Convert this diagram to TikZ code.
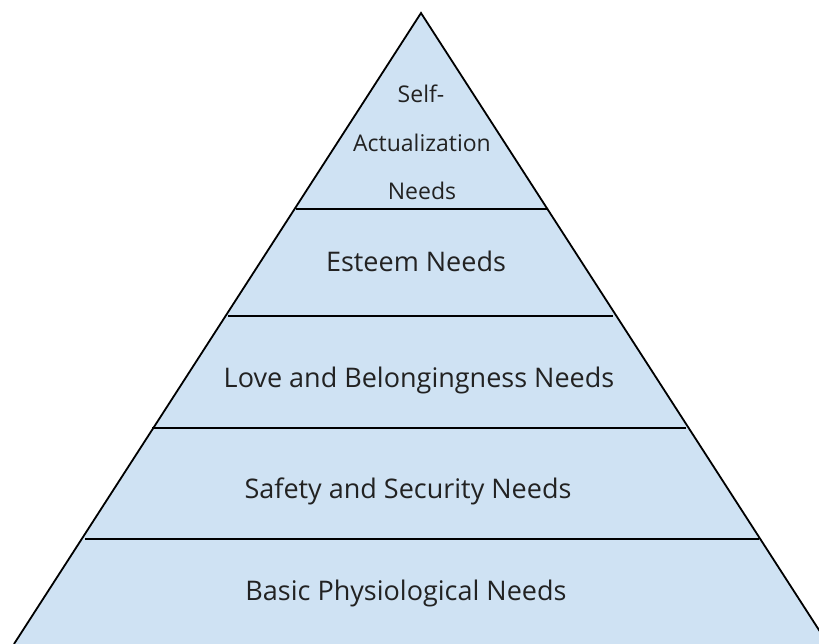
\documentclass[tikz,border=0pt]{standalone}
\usepackage{fontspec}
\setmainfont{Open Sans}
\definecolor{pyrfill}{HTML}{CFE2F3}
\definecolor{txt}{HTML}{222222}
\tikzset{
  lvl/.style={anchor=base, font=\fontsize{27}{32}\selectfont, text=txt, inner sep=0pt},
  toplvl/.style={lvl, font=\fontsize{23}{28}\selectfont},
  edge/.style={line width=1.8pt, black},
  sep/.style={line width=1.8pt, black}
}
\begin{document}
\begin{tikzpicture}[x=1pt,y=-1pt]
\useasboundingbox (0,0) rectangle (819,644);
\clip (0,0) rectangle (819,644);
\coordinate (apex) at (421,13);
\coordinate (bl) at (14,644);
\coordinate (br) at (828,644);
\fill[pyrfill] (apex) -- (bl) -- (br) -- cycle;
\draw[sep] (296,209) -- (547,209);
\draw[sep] (228,316) -- (613,316);
\draw[sep] (152,428) -- (686,428);
\draw[sep] (85,539) -- (759,539);
\draw[edge, line join=miter] (bl) -- (apex) -- (br);
\node[toplvl] (s1) at (421,103) {Self-};
\node[toplvl] (s2) at (422,152) {Actualization};
\node[toplvl] (s3) at (422,200) {Needs};
\node[lvl] (e) at (416,272) {Esteem Needs};
\node[lvl] (l) at (419,387) {Love and Belongingness Needs};
\node[lvl] (s) at (408,498) {Safety and Security Needs};
\node[lvl] (b) at (406,600) {Basic Physiological Needs};
\end{tikzpicture}
\end{document}
